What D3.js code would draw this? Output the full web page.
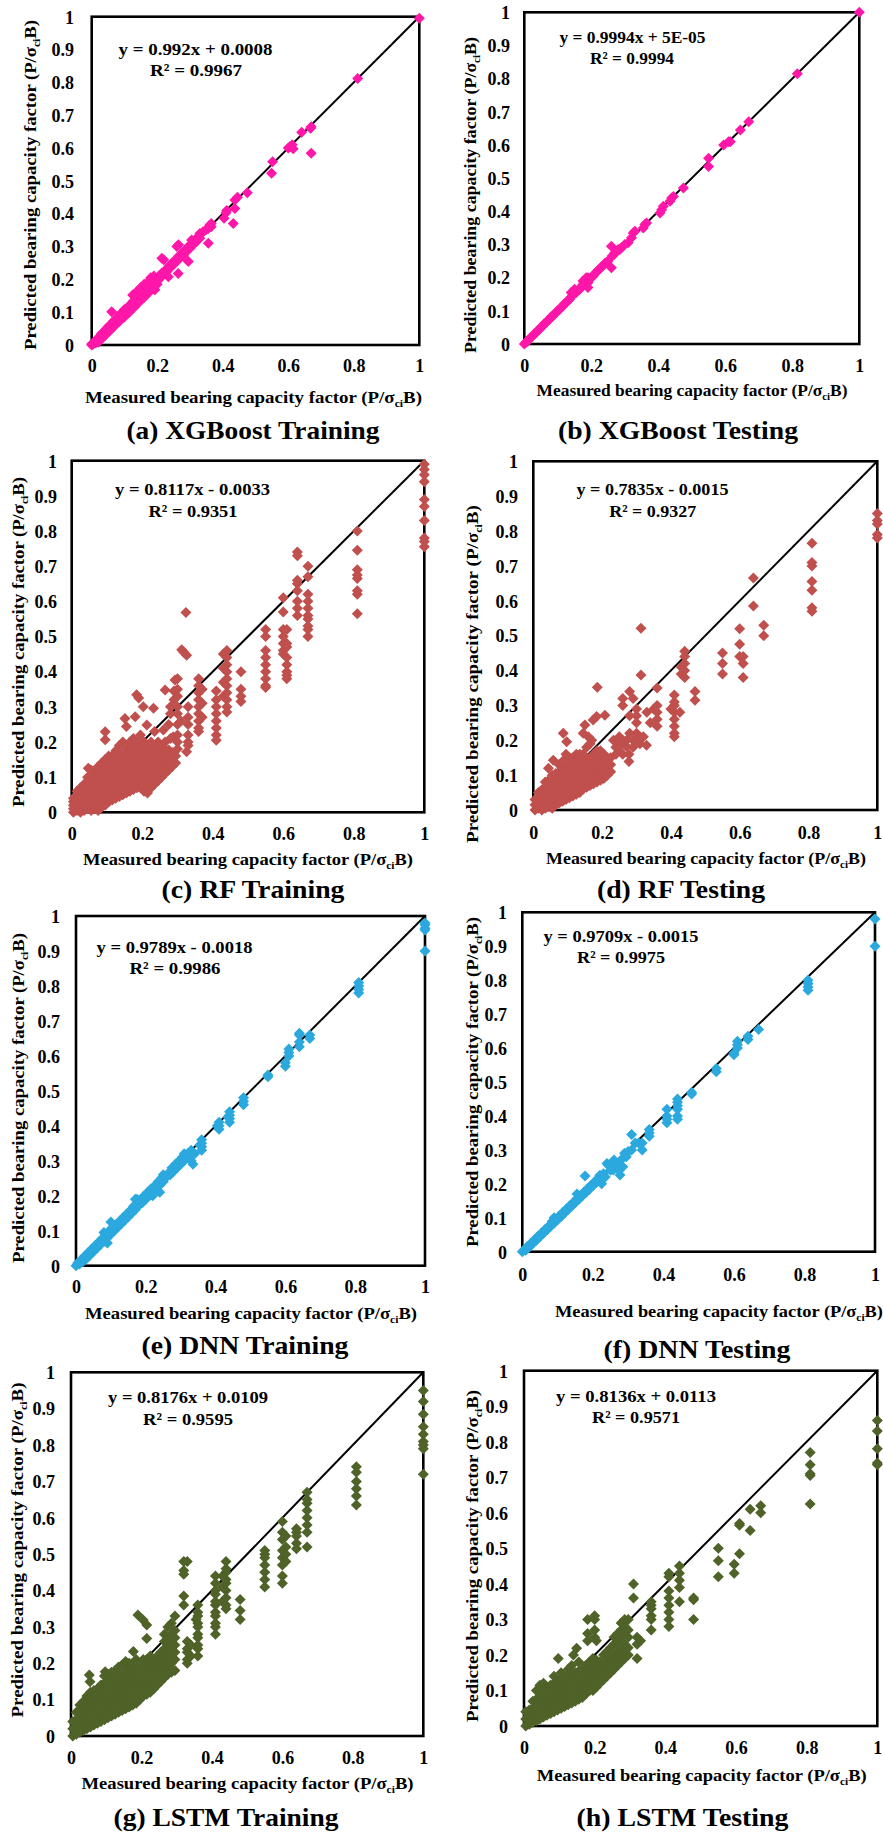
<!DOCTYPE html>
<html><head><meta charset="utf-8">
<script src="https://cdn.jsdelivr.net/npm/d3@7"></script>
<style>
html,body{margin:0;padding:0;background:#fff;}
text{font-family:"Liberation Serif","Times New Roman",Times,serif;font-weight:bold;fill:#000;}
</style></head>
<body>
<svg id="c" width="883" height="1833"></svg>
<script>
// ---------- DATA (each row: measured value, then predicted values) ----------
const xTicks = [0, 0.2, 0.4, 0.6, 0.8, 1];
const yTicks = [0, 0.1, 0.2, 0.3, 0.4, 0.5, 0.6, 0.7, 0.8, 0.9, 1];
const captions = ["(a) XGBoost Training","(b) XGBoost Testing","(c) RF Training","(d) RF Testing","(e) DNN Training","(f) DNN Testing","(g) LSTM Training","(h) LSTM Testing"];
const equations = ["y = 0.992x + 0.0008","y = 0.9994x + 5E-05","y = 0.8117x - 0.0033","y = 0.7835x - 0.0015","y = 0.9789x - 0.0018","y = 0.9709x - 0.0015","y = 0.8176x + 0.0109","y = 0.8136x + 0.0113"];
const r2Values = ["0.9967","0.9994","0.9351","0.9327","0.9986","0.9975","0.9595","0.9571"];
const seriesColors = ["#FF17A9","#FF17A9","#C0504D","#C0504D","#2BA9DF","#2BA9DF","#4F6228","#4F6228"];

const xgbTrain = [
[0,0,0.003],[0.005,0.003],[0.01,0.012],[0.012,0.006],[0.018,0.02],[0.02,0.014,0.008],[0.025,0.027],[0.028,0.02],[0.03,0.035,0.018],[0.034,0.03],[0.038,0.04],[0.04,0.033,0.028],[0.045,0.05],[0.048,0.042],[0.052,0.058],[0.055,0.05,0.043],[0.06,0.063],[0.061,0.101],[0.062,0.055],[0.066,0.072],[0.07,0.064,0.058],[0.074,0.08],[0.078,0.072],[0.082,0.088],[0.085,0.08,0.072],[0.088,0.095],[0.092,0.088],[0.095,0.1],[0.098,0.094],[0.1,0.108,0.085],[0.104,0.1],[0.108,0.112],[0.112,0.106],[0.115,0.12,0.1],[0.118,0.112],[0.122,0.128],[0.125,0.12,0.152],[0.128,0.135],[0.13,0.115],[0.132,0.127],[0.135,0.14],[0.138,0.133],[0.14,0.165],[0.142,0.148],[0.145,0.14,0.13],[0.148,0.155],[0.15,0.175],[0.152,0.147],[0.155,0.16],[0.158,0.152],[0.16,0.185,0.145],[0.162,0.168],[0.165,0.16],[0.17,0.175,0.19],[0.172,0.166],[0.175,0.16],[0.176,0.182],[0.18,0.175,0.205],[0.184,0.19],[0.188,0.182],[0.19,0.198,0.21,0.17],[0.193,0.168],[0.195,0.19],[0.2,0.205,0.185],[0.203,0.197],[0.207,0.212],[0.21,0.205],[0.214,0.264],[0.215,0.22],[0.22,0.215,0.26],[0.225,0.228],[0.23,0.225],[0.234,0.208],[0.235,0.24],[0.24,0.235],[0.245,0.25],[0.25,0.245],[0.255,0.26],[0.26,0.255,0.3],[0.264,0.218],[0.265,0.27,0.305],[0.27,0.265],[0.275,0.28],[0.28,0.272],[0.285,0.29],[0.29,0.285],[0.295,0.3,0.254],[0.3,0.295],[0.305,0.31,0.32],[0.31,0.305],[0.315,0.32],[0.32,0.315],[0.325,0.33],[0.33,0.325,0.34],[0.335,0.34],[0.34,0.345],[0.35,0.352],[0.356,0.355,0.31],[0.36,0.365],[0.365,0.36,0.37],[0.404,0.386],[0.41,0.403],[0.412,0.41],[0.432,0.37],[0.437,0.416,0.442],[0.445,0.45],[0.475,0.464],[0.549,0.523],[0.552,0.558],[0.6,0.6],[0.605,0.604],[0.612,0.61],[0.615,0.598],[0.641,0.648],[0.668,0.66],[0.67,0.665,0.584],[0.812,0.812],[1,0.995]
];

const xgbTest = [
[0,0],[0.005,0.005],[0.01,0.008],[0.015,0.016],[0.02,0.02],[0.025,0.024],[0.03,0.031],[0.035,0.034],[0.04,0.041],[0.045,0.044],[0.05,0.051],[0.055,0.054],[0.06,0.062],[0.065,0.064],[0.07,0.071],[0.075,0.074],[0.08,0.082],[0.085,0.084],[0.09,0.091],[0.095,0.094],[0.1,0.102],[0.105,0.104],[0.11,0.111],[0.115,0.114],[0.12,0.122],[0.125,0.124],[0.13,0.131],[0.135,0.134],[0.14,0.142,0.155],[0.145,0.15],[0.15,0.16,0.165],[0.155,0.155],[0.16,0.162],[0.165,0.164],[0.17,0.172],[0.175,0.18,0.19],[0.18,0.19,0.18],[0.185,0.2],[0.19,0.17,0.185,0.2],[0.195,0.196],[0.2,0.2],[0.205,0.204],[0.21,0.212],[0.215,0.216],[0.22,0.222],[0.225,0.226],[0.23,0.232],[0.235,0.236],[0.24,0.243],[0.245,0.246],[0.25,0.25],[0.26,0.295,0.23],[0.262,0.265],[0.268,0.27],[0.27,0.275],[0.275,0.28],[0.28,0.285],[0.285,0.285],[0.29,0.29],[0.3,0.3],[0.31,0.305],[0.32,0.32],[0.325,0.335],[0.33,0.34],[0.355,0.35],[0.36,0.36],[0.365,0.365],[0.405,0.395],[0.41,0.405],[0.415,0.415],[0.435,0.43],[0.44,0.44],[0.445,0.445],[0.475,0.47],[0.55,0.56,0.535],[0.595,0.6],[0.61,0.61],[0.615,0.61],[0.645,0.645],[0.67,0.67],[0.815,0.815],[1,1]
];

const rfTrain = [
[0.005,0,0.01,0.02,0.03,0.04],[0.015,0.005,0.02,0.035,0.05,0.06],[0.025,0,0.012,0.028,0.045,0.06,0.07],[0.035,0.005,0.02,0.035,0.05,0.065,0.08],[0.045,0.01,0.025,0.04,0.055,0.07,0.085,0.1],[0.047,0.125],[0.055,0.005,0.02,0.035,0.05,0.065,0.08,0.095,0.12],[0.065,0.01,0.025,0.04,0.055,0.07,0.085,0.1,0.115],[0.071,0.111],[0.075,0.005,0.02,0.035,0.05,0.065,0.08,0.095,0.11,0.13],[0.085,0.015,0.03,0.045,0.06,0.075,0.09,0.105,0.12,0.14],[0.095,0.02,0.035,0.05,0.065,0.08,0.095,0.11,0.125,0.15,0.206,0.229],[0.105,0.03,0.045,0.06,0.075,0.09,0.105,0.12,0.135,0.16],[0.115,0.035,0.05,0.065,0.08,0.095,0.11,0.125,0.14,0.16],[0.125,0.04,0.055,0.07,0.085,0.1,0.115,0.13,0.145,0.175],[0.135,0.045,0.06,0.075,0.09,0.105,0.12,0.135,0.15,0.17,0.19],[0.145,0.05,0.065,0.08,0.095,0.11,0.125,0.14,0.155,0.2],[0.151,0.267],[0.155,0.055,0.07,0.085,0.1,0.115,0.13,0.145,0.16,0.18,0.244],[0.165,0.06,0.075,0.09,0.105,0.12,0.135,0.15,0.17,0.2],[0.175,0.065,0.08,0.095,0.11,0.125,0.14,0.155,0.175,0.19,0.21],[0.18,0.272],[0.184,0.334],[0.185,0.07,0.085,0.1,0.115,0.13,0.145,0.16,0.18,0.2],[0.19,0.325],[0.195,0.07,0.09,0.105,0.12,0.135,0.15,0.165,0.185,0.22],[0.203,0.3],[0.205,0.06,0.08,0.1,0.12,0.14,0.16,0.18,0.2],[0.213,0.248],[0.215,0.055,0.075,0.1,0.125,0.15,0.17,0.19],[0.225,0.07,0.09,0.105,0.12,0.14,0.16,0.18,0.2],[0.232,0.296],[0.235,0.08,0.1,0.115,0.13,0.15,0.17,0.19,0.23],[0.245,0.09,0.11,0.125,0.14,0.16,0.18,0.2],[0.255,0.1,0.12,0.135,0.15,0.17,0.19],[0.26,0.234],[0.265,0.11,0.13,0.145,0.16,0.18,0.2,0.348],[0.275,0.12,0.14,0.16,0.177,0.25],[0.28,0.149,0.21,0.3,0.28],[0.285,0.13,0.15,0.17],[0.288,0.215],[0.29,0.345,0.32],[0.293,0.376],[0.295,0.14,0.16],[0.3,0.38,0.35,0.33,0.3,0.28,0.25,0.22,0.2,0.18],[0.31,0.26],[0.312,0.462],[0.318,0.455],[0.324,0.568],[0.326,0.447,0.172],[0.33,0.3,0.27,0.25,0.22,0.2,0.19],[0.36,0.38,0.36,0.34,0.32,0.3,0.28,0.26,0.24,0.23],[0.37,0.35,0.31,0.27],[0.41,0.345,0.32,0.3,0.28,0.26,0.24,0.22,0.205],[0.43,0.45,0.41,0.37,0.33],[0.44,0.46,0.44,0.42,0.4,0.38,0.36,0.34,0.32,0.3,0.285],[0.48,0.4,0.35,0.33,0.315],[0.55,0.52,0.5,0.46,0.44,0.42,0.4,0.38,0.36,0.355],[0.6,0.61,0.57,0.52,0.5,0.48,0.46,0.45],[0.61,0.52,0.48,0.47,0.44,0.42,0.4,0.39,0.38],[0.64,0.74,0.73,0.66,0.65,0.63,0.6,0.58,0.56],[0.67,0.7,0.67,0.62,0.6,0.58,0.56,0.55,0.53,0.52,0.5],[0.81,0.8,0.745,0.69,0.675,0.665,0.63,0.62,0.565],[1,0.99,0.975,0.96,0.94,0.89,0.87,0.83,0.78,0.77,0.755]
];

const rfTest = [
[0.005,0,0.015,0.03],[0.015,0.005,0.02,0.035,0.05],[0.025,0,0.013,0.028,0.043,0.058],[0.035,0.005,0.02,0.035,0.05,0.065,0.08],[0.044,0.12],[0.045,0.01,0.025,0.04,0.055,0.07,0.085],[0.055,0.005,0.02,0.035,0.05,0.065,0.08,0.1],[0.058,0.143],[0.065,0.015,0.03,0.045,0.06,0.075,0.09,0.105],[0.075,0.02,0.035,0.05,0.065,0.08,0.095,0.11,0.13],[0.085,0.025,0.04,0.055,0.07,0.085,0.1,0.12,0.14],[0.087,0.22],[0.095,0.03,0.045,0.06,0.075,0.09,0.105,0.12,0.16],[0.097,0.196],[0.105,0.035,0.05,0.065,0.08,0.095,0.11,0.13,0.15],[0.115,0.04,0.055,0.07,0.085,0.1,0.115,0.13,0.15],[0.125,0.045,0.06,0.075,0.09,0.105,0.12,0.14,0.16],[0.135,0.05,0.065,0.08,0.095,0.11,0.125,0.145,0.16],[0.145,0.06,0.075,0.09,0.105,0.12,0.14,0.16,0.22],[0.15,0.244],[0.155,0.065,0.08,0.095,0.11,0.125,0.145,0.18],[0.16,0.21],[0.165,0.07,0.085,0.1,0.115,0.13,0.15,0.19],[0.17,0.2],[0.174,0.258],[0.175,0.075,0.09,0.105,0.12,0.14,0.16],[0.184,0.268],[0.185,0.08,0.095,0.11,0.125,0.145,0.17],[0.186,0.352],[0.195,0.085,0.1,0.115,0.13,0.15,0.17],[0.205,0.09,0.105,0.12,0.14,0.16],[0.208,0.272],[0.215,0.1,0.12,0.135,0.15],[0.225,0.11,0.13,0.15],[0.233,0.2],[0.24,0.18,0.16],[0.25,0.21,0.17,0.19],[0.26,0.19,0.16,0.32,0.3,0.2],[0.271,0.182,0.2],[0.278,0.139,0.16],[0.28,0.22,0.34,0.27],[0.29,0.2,0.32,0.18],[0.3,0.22,0.2,0.29,0.27,0.25],[0.31,0.19,0.21],[0.313,0.521,0.387],[0.32,0.21],[0.329,0.186],[0.33,0.28],[0.34,0.25],[0.35,0.29],[0.36,0.35,0.3,0.28,0.26,0.24],[0.4,0.29],[0.41,0.33,0.31,0.3,0.28,0.26,0.24,0.22,0.21],[0.426,0.28],[0.43,0.41,0.39],[0.44,0.455,0.44,0.42,0.4,0.38],[0.47,0.34,0.315],[0.55,0.45,0.42,0.39],[0.6,0.52,0.475,0.44],[0.61,0.44,0.42,0.38],[0.64,0.665,0.585],[0.67,0.53,0.5],[0.81,0.765,0.71,0.7,0.655,0.63,0.58,0.57],[1,0.85,0.83,0.82,0.79,0.78]
];

const dnnTrain = [
[0,0],[0.005,0.008],[0.01,0.005],[0.015,0.018],[0.02,0.012],[0.025,0.028],[0.03,0.02],[0.035,0.038],[0.04,0.03],[0.045,0.048],[0.05,0.04],[0.055,0.058],[0.06,0.05],[0.065,0.068],[0.07,0.06],[0.075,0.078],[0.08,0.07,0.095],[0.085,0.09],[0.09,0.08,0.065],[0.095,0.1],[0.1,0.09,0.125],[0.105,0.11],[0.11,0.1],[0.115,0.118],[0.12,0.11],[0.125,0.128],[0.13,0.12],[0.135,0.138],[0.14,0.13],[0.145,0.148],[0.15,0.14],[0.155,0.158],[0.16,0.15],[0.165,0.17],[0.17,0.16,0.19],[0.175,0.19],[0.18,0.172],[0.185,0.185],[0.19,0.18],[0.195,0.2],[0.2,0.19],[0.205,0.21],[0.21,0.2],[0.215,0.22],[0.22,0.21,0.2],[0.225,0.228],[0.23,0.22],[0.235,0.24],[0.24,0.23,0.21],[0.245,0.25],[0.25,0.24,0.26],[0.255,0.25],[0.26,0.255],[0.265,0.265],[0.27,0.26],[0.275,0.28],[0.28,0.27],[0.285,0.29],[0.29,0.28],[0.295,0.3],[0.3,0.29],[0.305,0.31],[0.31,0.32,0.3],[0.32,0.32],[0.325,0.31],[0.33,0.33,0.3],[0.335,0.29],[0.34,0.32],[0.355,0.345],[0.36,0.36,0.35,0.34,0.33],[0.405,0.4],[0.41,0.41,0.4,0.39],[0.435,0.425],[0.44,0.44,0.43,0.42,0.41],[0.48,0.48,0.47,0.46],[0.55,0.545,0.54],[0.6,0.58,0.57],[0.61,0.62,0.61,0.6],[0.64,0.665,0.66,0.64,0.626],[0.67,0.66,0.65],[0.81,0.81,0.8,0.79,0.78],[1,0.98,0.975,0.965,0.96,0.9]
];

const dnnTest = [
[0,0],[0.005,0.006],[0.01,0.004],[0.015,0.016],[0.02,0.014],[0.025,0.026],[0.03,0.024],[0.035,0.036],[0.04,0.034],[0.045,0.046],[0.05,0.044],[0.055,0.056],[0.06,0.054],[0.065,0.066],[0.07,0.064],[0.075,0.076],[0.08,0.074],[0.085,0.09],[0.09,0.084,0.1],[0.095,0.096],[0.1,0.094],[0.105,0.106],[0.11,0.104],[0.115,0.116],[0.12,0.114],[0.125,0.126],[0.13,0.124],[0.135,0.136],[0.14,0.134],[0.145,0.146],[0.15,0.144],[0.155,0.156,0.17],[0.16,0.154],[0.165,0.166],[0.17,0.164],[0.175,0.176],[0.178,0.223],[0.18,0.174],[0.185,0.186],[0.19,0.184],[0.195,0.196],[0.2,0.194],[0.205,0.206],[0.21,0.204],[0.215,0.216],[0.22,0.21,0.225],[0.225,0.2],[0.23,0.23],[0.235,0.22],[0.24,0.26],[0.244,0.255],[0.25,0.24],[0.258,0.241],[0.26,0.27],[0.265,0.25],[0.27,0.26],[0.275,0.24],[0.277,0.226],[0.28,0.27],[0.285,0.25],[0.29,0.29],[0.295,0.28],[0.3,0.295],[0.31,0.345,0.3],[0.32,0.32],[0.33,0.32],[0.34,0.3,0.32],[0.36,0.36,0.35,0.34],[0.41,0.42,0.4,0.39,0.38],[0.44,0.45,0.44,0.43,0.42,0.4,0.39],[0.48,0.47,0.465],[0.55,0.54,0.53],[0.6,0.585,0.58],[0.61,0.62,0.61,0.6],[0.64,0.635,0.625],[0.67,0.655],[0.81,0.8,0.79,0.78,0.77],[1,0.98,0.9]
];

const lstmTrain = [
[0.005,0,0.02,0.04],[0.015,0.005,0.025,0.045,0.065],[0.025,0.01,0.03,0.05,0.07,0.085],[0.035,0.015,0.035,0.055,0.075,0.095],[0.045,0.02,0.04,0.06,0.08,0.1,0.11],[0.052,0.168],[0.054,0.149],[0.055,0.025,0.045,0.065,0.085,0.105,0.12],[0.065,0.03,0.05,0.07,0.09,0.11,0.125],[0.075,0.035,0.055,0.075,0.095,0.115,0.13],[0.085,0.04,0.06,0.08,0.1,0.12,0.14],[0.095,0.045,0.065,0.085,0.105,0.125,0.145,0.165],[0.097,0.177],[0.105,0.05,0.07,0.09,0.11,0.13,0.15,0.17],[0.115,0.055,0.075,0.095,0.115,0.135,0.155,0.175],[0.125,0.06,0.08,0.1,0.12,0.14,0.16,0.18],[0.135,0.065,0.085,0.105,0.125,0.145,0.165,0.19],[0.145,0.07,0.09,0.11,0.13,0.15,0.17,0.195],[0.155,0.075,0.095,0.115,0.135,0.155,0.175,0.19,0.205],[0.165,0.08,0.1,0.12,0.14,0.16,0.18,0.2],[0.175,0.085,0.105,0.125,0.145,0.165,0.185,0.2],[0.177,0.232],[0.185,0.09,0.11,0.13,0.15,0.17,0.19,0.21],[0.19,0.333],[0.195,0.1,0.12,0.14,0.16,0.18,0.2],[0.205,0.11,0.13,0.15,0.17,0.19,0.319,0.21],[0.215,0.115,0.135,0.155,0.175,0.195,0.21,0.305,0.268],[0.225,0.12,0.14,0.16,0.18,0.2,0.22],[0.235,0.13,0.15,0.17,0.19,0.21],[0.245,0.14,0.16,0.18,0.2,0.22],[0.255,0.15,0.17,0.19,0.21,0.23],[0.265,0.16,0.18,0.2,0.22,0.24,0.26,0.28],[0.275,0.17,0.19,0.21,0.23,0.25,0.27,0.3],[0.285,0.175,0.2,0.22,0.24,0.26,0.28,0.31],[0.295,0.18,0.21,0.23,0.25,0.27,0.29,0.33],[0.32,0.48,0.455,0.445,0.385,0.36],[0.33,0.48,0.26,0.24,0.23,0.21,0.2],[0.34,0.25,0.22],[0.355,0.32],[0.36,0.36,0.34,0.33,0.31,0.3,0.28,0.27,0.25,0.24,0.22],[0.41,0.44,0.42,0.4,0.39,0.37,0.36,0.34,0.33,0.31,0.3,0.28],[0.43,0.44,0.41,0.37],[0.44,0.48,0.46,0.45,0.43,0.42,0.4,0.38,0.36,0.35],[0.48,0.375,0.345,0.32],[0.55,0.51,0.5,0.49,0.47,0.45,0.43,0.41],[0.6,0.59,0.56,0.54,0.51,0.49,0.47,0.44,0.42],[0.61,0.55,0.52,0.5,0.48],[0.64,0.57,0.56,0.55,0.53,0.515],[0.67,0.67,0.65,0.64,0.62,0.6,0.58,0.56,0.52],[0.81,0.74,0.725,0.7,0.68,0.66,0.635],[1,0.95,0.92,0.885,0.85,0.83,0.81,0.8,0.79,0.72]
];

const lstmTest = [
[0.005,0,0.02,0.04],[0.015,0.005,0.025,0.045],[0.025,0.01,0.03,0.05,0.07],[0.035,0.015,0.035,0.055,0.075,0.1],[0.045,0.02,0.04,0.06,0.08,0.1,0.115],[0.055,0.025,0.045,0.065,0.085,0.105,0.12],[0.065,0.03,0.05,0.07,0.09,0.11],[0.075,0.035,0.055,0.075,0.095,0.115],[0.085,0.04,0.06,0.08,0.1,0.12,0.14],[0.095,0.045,0.065,0.085,0.105,0.125],[0.097,0.19],[0.105,0.05,0.07,0.09,0.11,0.13,0.15],[0.115,0.055,0.075,0.095,0.115,0.135],[0.125,0.06,0.08,0.1,0.12,0.14,0.16],[0.135,0.065,0.085,0.105,0.125,0.145,0.17],[0.14,0.2],[0.145,0.07,0.09,0.11,0.13,0.15],[0.149,0.219],[0.155,0.075,0.095,0.115,0.135,0.155,0.18],[0.165,0.08,0.1,0.12,0.14,0.16],[0.175,0.09,0.11,0.13,0.15,0.17],[0.18,0.3,0.26,0.24],[0.185,0.1,0.12,0.14,0.16,0.18],[0.195,0.1,0.12,0.14,0.16,0.18,0.19],[0.2,0.3,0.31,0.27,0.25],[0.205,0.11,0.13,0.15,0.17,0.185,0.24],[0.215,0.12,0.14,0.16,0.18],[0.225,0.13,0.15,0.17,0.2],[0.235,0.14,0.16,0.18,0.21],[0.245,0.15,0.17,0.19,0.22],[0.255,0.16,0.18,0.2,0.23,0.25],[0.265,0.17,0.19,0.21,0.24,0.26],[0.275,0.18,0.2,0.22,0.25,0.27,0.29],[0.285,0.19,0.21,0.23,0.26,0.28,0.3],[0.295,0.2,0.22,0.25,0.27,0.3],[0.31,0.4,0.36],[0.32,0.25,0.23,0.19],[0.33,0.24],[0.36,0.35,0.34,0.33,0.31,0.3,0.27],[0.41,0.43,0.42,0.38,0.36,0.34,0.32,0.3,0.28],[0.44,0.45,0.43,0.41,0.39,0.35],[0.48,0.36,0.355,0.3],[0.55,0.5,0.465,0.42],[0.595,0.455,0.43],[0.61,0.57,0.565,0.485],[0.64,0.61,0.55],[0.67,0.62,0.6],[0.81,0.77,0.735,0.71,0.705,0.625],[1,0.86,0.83,0.78,0.74,0.735]
];

const panelData = [xgbTrain, xgbTest, rfTrain, rfTest, dnnTrain, dnnTest, lstmTrain, lstmTest];

// ---------- LAYOUT ----------
const layout = [
 {L:91.7,R:419.3,T:16.7,B:345, yTR:74, xTY:366, xt:[253.5,397,337], yt:[30,185,330], eq:[195.5,49,154], r2:[196,70,92], cap:[253,430,253]},
 {L:524.3,R:859.3,T:12.3,B:344, yTR:510, xTY:365.7, xt:[692,390,311], yt:[470,195,316], eq:[632.5,37,146], r2:[632,58,84], cap:[678,430,240]},
 {L:71.7,R:424.3,T:460.7,B:812.3, yTR:57, xTY:834, xt:[248,859,330], yt:[18,642,330], eq:[192.5,489,155], r2:[193,511,89], cap:[253,889,183]},
 {L:533.3,R:877.3,T:461.3,B:810, yTR:518, xTY:833, xt:[706,858,320], yt:[472,674,338], eq:[652.5,489,152], r2:[652.7,511,87], cap:[681,889,168]},
 {L:76,R:425,T:916,B:1265.7, yTR:60, xTY:1287, xt:[251,1313,332], yt:[18,1098,330], eq:[174.5,947,156], r2:[175,968,91], cap:[245,1345,207]},
 {L:522.3,R:875,T:912.3,B:1251.7, yTR:507, xTY:1275, xt:[719,1310.7,328], yt:[472,1082,330], eq:[621,935.7,155], r2:[621,957,88], cap:[697,1349,187]},
 {L:71,R:423.3,T:1372.3,B:1736, yTR:55, xTY:1758, xt:[247.5,1783,332], yt:[17,1550,335], eq:[188,1397,160], r2:[188,1419,90], cap:[226,1817,225]},
 {L:524,R:877.3,T:1370.7,B:1726, yTR:508, xTY:1748, xt:[701.7,1775,330], yt:[472,1556,332], eq:[636,1395.7,160], r2:[636,1417,88], cap:[682.5,1817,212]}
];

const svg = d3.select("#c");
svg.append("rect").attr("width",883).attr("height",1833).attr("fill","#fff");
const fmt = v => v === 0 ? "0" : v === 1 ? "1" : v.toFixed(1);
const R = 5.5;
const diamond = `M0,${-R}L${R},0L0,${R}L${-R},0Z`;
const FONT = "'Liberation Serif','Times New Roman',Times,serif";

function labelWithSub(sel, pre){
  sel.append("tspan").text(pre + "(P/σ");
  sel.append("tspan").attr("font-size","0.62em").attr("dy","4").text("ci");
  sel.append("tspan").attr("dy","-4").text("B)");
}

layout.forEach((p, i) => {
  const g = svg.append("g");
  const x = d3.scaleLinear().domain([0,1]).range([p.L, p.R]);
  const y = d3.scaleLinear().domain([0,1]).range([p.B, p.T]);

  g.append("rect").attr("x",p.L).attr("y",p.T).attr("width",p.R-p.L).attr("height",p.B-p.T)
    .attr("fill","none").attr("stroke","#000").attr("stroke-width",2.6);
  g.append("line").attr("x1",x(0)).attr("y1",y(0)).attr("x2",x(1)).attr("y2",y(1))
    .attr("stroke","#000").attr("stroke-width",2);

  const pts = [];
  panelData[i].forEach(row => { for (let k = 1; k < row.length; k++) pts.push([row[0], row[k]]); });
  g.selectAll("path.pt").data(pts).enter().append("path").attr("class","pt")
    .attr("d", diamond)
    .attr("transform", d => `translate(${x(d[0])},${y(d[1])})`)
    .attr("fill", seriesColors[i]);

  const xa = g.append("g").attr("transform",`translate(0,${p.xTY})`)
    .call(d3.axisBottom(x).tickValues(xTicks).tickFormat(fmt).tickSize(0).tickPadding(0));
  xa.attr("font-family", FONT);
  xa.select(".domain").remove();
  xa.selectAll("text").attr("y",0).attr("dy","0.35em").style("font-size","18px")
    .style("font-family",FONT).style("font-weight","bold").attr("fill","#000");

  const ya = g.append("g").attr("transform",`translate(${p.yTR},0)`)
    .call(d3.axisLeft(y).tickValues(yTicks).tickFormat(fmt).tickSize(0).tickPadding(0));
  ya.attr("font-family", FONT);
  ya.select(".domain").remove();
  ya.selectAll("text").attr("x",0).attr("dy","0.35em").style("font-size","18px")
    .style("font-family",FONT).style("font-weight","bold").attr("fill","#000");

  const xt = g.append("text").attr("x",p.xt[0]).attr("y",p.xt[1]).attr("dy","0.35em")
    .attr("text-anchor","middle").style("font-size","17px")
    .attr("textLength",p.xt[2]).attr("lengthAdjust","spacingAndGlyphs");
  labelWithSub(xt, "Measured bearing capacity factor ");

  const yt = g.append("text").attr("transform",`translate(${p.yt[0]},${p.yt[1]}) rotate(-90)`)
    .attr("dy","0.35em").attr("text-anchor","middle").style("font-size","17px")
    .attr("textLength",p.yt[2]).attr("lengthAdjust","spacingAndGlyphs");
  labelWithSub(yt, "Predicted bearing capacity factor ");

  g.append("text").attr("x",p.eq[0]).attr("y",p.eq[1]).attr("dy","0.35em").attr("text-anchor","middle")
    .style("font-size","17px").attr("textLength",p.eq[2]).attr("lengthAdjust","spacingAndGlyphs")
    .text(equations[i]);
  g.append("text").attr("x",p.r2[0]).attr("y",p.r2[1]).attr("dy","0.35em").attr("text-anchor","middle")
    .style("font-size","17px").attr("textLength",p.r2[2]).attr("lengthAdjust","spacingAndGlyphs")
    .text("R² = " + r2Values[i]);

  g.append("text").attr("x",p.cap[0]).attr("y",p.cap[1]).attr("dy","0.35em").attr("text-anchor","middle")
    .style("font-size","26px").attr("textLength",p.cap[2]).attr("lengthAdjust","spacingAndGlyphs")
    .text(captions[i]);
});
</script>
</body></html>
